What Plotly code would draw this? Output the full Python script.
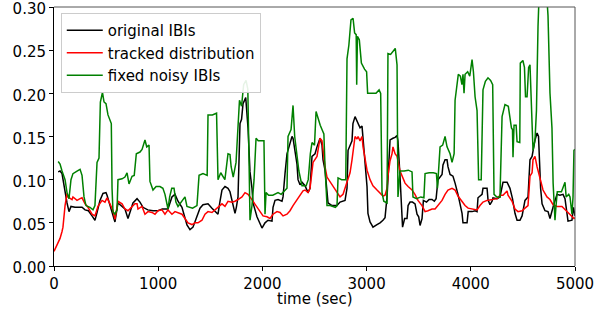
import plotly.graph_objects as go

# ---- data ----
t_orig = [40, 58, 77, 86, 106, 125, 144, 163, 202, 240, 269, 298, 330, 365, 393, 413, 441, 470, 499, 509, 537, 566, 585, 614, 653, 681, 710, 758, 797, 825, 854, 900, 950, 998, 1040, 1094, 1132, 1161, 1190, 1228, 1276, 1305, 1334, 1372, 1401, 1430, 1478, 1516, 1545, 1574, 1593, 1612, 1641, 1670, 1689, 1708, 1737, 1750, 1766, 1785, 1800, 1814, 1840, 1862, 1881, 1900, 1910, 1948, 1977, 1996, 2025, 2054, 2092, 2102, 2121, 2150, 2188, 2198, 2217, 2236, 2265, 2284, 2294, 2313, 2332, 2342, 2361, 2380, 2409, 2438, 2457, 2476, 2505, 2524, 2553, 2572, 2582, 2601, 2620, 2630, 2668, 2716, 2745, 2793, 2812, 2822, 2860, 2869, 2889, 2918, 2937, 2956, 2966, 2985, 3004, 3013, 3033, 3052, 3061, 3100, 3129, 3157, 3177, 3196, 3205, 3225, 3253, 3273, 3292, 3301, 3321, 3335, 3345, 3365, 3388, 3398, 3417, 3440, 3465, 3484, 3500, 3513, 3532, 3545, 3575, 3600, 3628, 3650, 3667, 3685, 3724, 3733, 3753, 3772, 3781, 3801, 3829, 3849, 3877, 3916, 3925, 3964, 3975, 4012, 4041, 4060, 4069, 4108, 4117, 4156, 4165, 4184, 4204, 4213, 4252, 4280, 4309, 4348, 4376, 4400, 4424, 4444, 4472, 4492, 4520, 4549, 4568, 4588, 4616, 4636, 4650, 4660, 4670, 4684, 4712, 4741, 4760, 4789, 4808, 4827, 4856, 4885, 4904, 4923, 4933, 4971, 4985, 5000]
y_orig = [0.109, 0.11, 0.107, 0.10, 0.083, 0.073, 0.063, 0.069, 0.068, 0.068, 0.068, 0.065, 0.064, 0.058, 0.053, 0.062, 0.076, 0.084, 0.085, 0.082, 0.07, 0.059, 0.051, 0.073, 0.069, 0.066, 0.055, 0.073, 0.078, 0.074, 0.068, 0.065, 0.064, 0.064, 0.066, 0.066, 0.08, 0.083, 0.075, 0.068, 0.0475, 0.042, 0.045, 0.057, 0.067, 0.071, 0.072, 0.067, 0.064, 0.06, 0.075, 0.088, 0.092, 0.09, 0.086, 0.075, 0.061, 0.068, 0.08, 0.165, 0.17, 0.188, 0.195, 0.16, 0.109, 0.09, 0.073, 0.057, 0.05, 0.044, 0.05, 0.053, 0.052, 0.068, 0.076, 0.077, 0.075, 0.08, 0.107, 0.13, 0.142, 0.15, 0.148, 0.135, 0.118, 0.10, 0.094, 0.097, 0.093, 0.085, 0.09, 0.127, 0.13, 0.138, 0.148, 0.14, 0.123, 0.111, 0.088, 0.073, 0.07, 0.07, 0.074, 0.076, 0.09, 0.134, 0.145, 0.165, 0.173, 0.165, 0.16, 0.162, 0.145, 0.119, 0.092, 0.061, 0.051, 0.047, 0.045, 0.048, 0.05, 0.053, 0.056, 0.08, 0.104, 0.146, 0.148, 0.149, 0.151, 0.145, 0.103, 0.07, 0.045, 0.055, 0.055, 0.07, 0.074, 0.074, 0.072, 0.06, 0.057, 0.047, 0.055, 0.076, 0.074, 0.077, 0.077, 0.075, 0.078, 0.1, 0.106, 0.117, 0.123, 0.123, 0.115, 0.106, 0.104, 0.096, 0.083, 0.061, 0.05, 0.05, 0.063, 0.063, 0.064, 0.063, 0.079, 0.083, 0.09, 0.09, 0.077, 0.071, 0.075, 0.079, 0.078, 0.08, 0.097, 0.097, 0.09, 0.078, 0.061, 0.053, 0.053, 0.058, 0.076, 0.08, 0.123, 0.127, 0.146, 0.154, 0.15, 0.12, 0.09, 0.072, 0.064, 0.063, 0.055, 0.068, 0.076, 0.083, 0.082, 0.083, 0.078, 0.06, 0.052, 0.053, 0.068, 0.058]

t_track = [0, 29, 58, 77, 86, 106, 125, 134, 154, 173, 182, 221, 250, 269, 298, 326, 365, 393, 422, 461, 489, 509, 537, 566, 585, 614, 653, 681, 710, 749, 777, 797, 806, 845, 873, 902, 940, 969, 998, 1036, 1065, 1094, 1132, 1161, 1190, 1228, 1257, 1286, 1324, 1353, 1382, 1420, 1449, 1478, 1516, 1545, 1574, 1612, 1641, 1670, 1708, 1737, 1766, 1804, 1833, 1862, 1881, 1910, 1948, 1977, 2006, 2044, 2073, 2102, 2140, 2169, 2198, 2236, 2265, 2294, 2332, 2361, 2390, 2409, 2438, 2457, 2476, 2486, 2524, 2553, 2572, 2582, 2601, 2620, 2668, 2697, 2726, 2745, 2774, 2793, 2822, 2841, 2860, 2889, 2908, 2918, 2937, 2956, 2966, 2985, 3004, 3033, 3061, 3100, 3129, 3157, 3177, 3196, 3205, 3225, 3244, 3253, 3273, 3292, 3321, 3340, 3369, 3398, 3436, 3464, 3493, 3532, 3561, 3589, 3628, 3657, 3685, 3724, 3753, 3781, 3820, 3849, 3877, 3916, 3945, 3974, 4012, 4060, 4088, 4117, 4156, 4204, 4252, 4280, 4309, 4348, 4357, 4396, 4424, 4453, 4492, 4520, 4549, 4568, 4588, 4597, 4616, 4636, 4664, 4693, 4731, 4760, 4789, 4827, 4875, 4923, 4952, 4990, 5000]
y_track = [0.017, 0.025, 0.032, 0.04, 0.045, 0.07, 0.084, 0.08, 0.078, 0.077, 0.08, 0.076, 0.078, 0.079, 0.072, 0.068, 0.06, 0.058, 0.069, 0.076, 0.074, 0.079, 0.072, 0.064, 0.054, 0.075, 0.072, 0.066, 0.064, 0.069, 0.072, 0.072, 0.066, 0.069, 0.06, 0.063, 0.062, 0.06, 0.064, 0.065, 0.06, 0.065, 0.06, 0.063, 0.062, 0.06, 0.055, 0.05, 0.048, 0.05, 0.05, 0.053, 0.06, 0.063, 0.062, 0.065, 0.068, 0.072, 0.069, 0.075, 0.074, 0.075, 0.077, 0.08, 0.085, 0.083, 0.08, 0.075, 0.068, 0.062, 0.058, 0.057, 0.055, 0.06, 0.063, 0.062, 0.058, 0.06, 0.064, 0.07, 0.077, 0.083, 0.087, 0.088, 0.085, 0.09, 0.115, 0.12, 0.127, 0.148, 0.145, 0.134, 0.115, 0.103, 0.094, 0.088, 0.082, 0.08, 0.083, 0.09, 0.1, 0.108, 0.123, 0.15, 0.147, 0.15, 0.145, 0.15, 0.138, 0.125, 0.111, 0.1, 0.093, 0.088, 0.085, 0.081, 0.082, 0.09, 0.104, 0.122, 0.13, 0.138, 0.13, 0.127, 0.11, 0.104, 0.096, 0.092, 0.088, 0.083, 0.076, 0.07, 0.063, 0.064, 0.066, 0.066, 0.07, 0.076, 0.083, 0.088, 0.09, 0.088, 0.081, 0.074, 0.07, 0.067, 0.066, 0.065, 0.07, 0.074, 0.076, 0.077, 0.078, 0.082, 0.082, 0.087, 0.082, 0.075, 0.066, 0.063, 0.064, 0.067, 0.07, 0.104, 0.108, 0.123, 0.127, 0.115, 0.1, 0.088, 0.08, 0.077, 0.071, 0.069, 0.069, 0.063, 0.059, 0.055, 0.056]

t_noisy = [40, 58, 77, 106, 125, 144, 163, 182, 221, 250, 269, 288, 307, 345, 374, 393, 413, 432, 445, 465, 480, 499, 518, 537, 550, 557, 566, 585, 605, 614, 653, 681, 701, 720, 749, 770, 790, 825, 845, 873, 890, 912, 921, 950, 980, 1017, 1045, 1065, 1094, 1110, 1130, 1152, 1170, 1190, 1228, 1257, 1276, 1330, 1372, 1392, 1430, 1470, 1478, 1520, 1560, 1574, 1600, 1640, 1670, 1689, 1700, 1720, 1747, 1766, 1780, 1800, 1820, 1843, 1860, 1872, 1881, 1900, 1920, 1939, 1960, 2000, 2015, 2025, 2035, 2060, 2100, 2150, 2180, 2236, 2246, 2275, 2294, 2310, 2332, 2350, 2380, 2420, 2440, 2460, 2476, 2500, 2515, 2535, 2555, 2572, 2590, 2601, 2620, 2650, 2700, 2716, 2726, 2760, 2800, 2812, 2830, 2850, 2870, 2885, 2900, 2905, 2912, 2930, 2950, 2980, 3000, 3010, 3050, 3090, 3120, 3135, 3148, 3165, 3196, 3205, 3230, 3260, 3275, 3292, 3301, 3321, 3360, 3400, 3436, 3445, 3480, 3520, 3550, 3561, 3600, 3640, 3670, 3680, 3705, 3730, 3753, 3772, 3801, 3820, 3840, 3849, 3868, 3880, 3900, 3915, 3925, 3935, 3945, 3970, 3990, 4012, 4025, 4041, 4060, 4075, 4100, 4117, 4140, 4165, 4190, 4210, 4223, 4250, 4270, 4280, 4300, 4328, 4360, 4390, 4400, 4405, 4415, 4435, 4444, 4470, 4475, 4500, 4515, 4525, 4540, 4555, 4568, 4585, 4597, 4616, 4630, 4645, 4660, 4720, 4741, 4760, 4779, 4790, 4808, 4818, 4830, 4870, 4885, 4904, 4915, 4940, 4952, 4971, 4981, 4990, 5000]
y_noisy = [0.121, 0.118, 0.11, 0.10, 0.085, 0.078, 0.10, 0.107, 0.11, 0.112, 0.105, 0.08, 0.07, 0.068, 0.065, 0.07, 0.12, 0.125, 0.19, 0.201, 0.19, 0.188, 0.175, 0.168, 0.165, 0.09, 0.063, 0.06, 0.065, 0.10, 0.101, 0.103, 0.108, 0.095, 0.104, 0.105, 0.13, 0.132, 0.135, 0.146, 0.138, 0.14, 0.098, 0.088, 0.092, 0.092, 0.09, 0.083, 0.066, 0.08, 0.09, 0.09, 0.074, 0.069, 0.075, 0.08, 0.069, 0.067, 0.07, 0.105, 0.107, 0.105, 0.175, 0.175, 0.177, 0.10, 0.108, 0.10, 0.13, 0.129, 0.115, 0.103, 0.12, 0.17, 0.192, 0.185, 0.21, 0.215, 0.205, 0.12, 0.053, 0.07, 0.10, 0.148, 0.145, 0.145, 0.145, 0.06, 0.085, 0.082, 0.082, 0.085, 0.083, 0.09, 0.15, 0.158, 0.186, 0.15, 0.125, 0.11, 0.093, 0.093, 0.10, 0.13, 0.143, 0.14, 0.179, 0.17, 0.163, 0.158, 0.153, 0.115, 0.07, 0.07, 0.068, 0.07, 0.102, 0.10, 0.10, 0.24, 0.256, 0.285, 0.287, 0.27, 0.268, 0.21, 0.266, 0.262, 0.235, 0.228, 0.225, 0.2, 0.2, 0.2, 0.204, 0.2, 0.085, 0.075, 0.073, 0.246, 0.245, 0.25, 0.252, 0.233, 0.08, 0.11, 0.11, 0.111, 0.109, 0.08, 0.078, 0.08, 0.079, 0.107, 0.108, 0.108, 0.107, 0.09, 0.138, 0.14, 0.15, 0.138, 0.13, 0.12, 0.13, 0.192, 0.215, 0.222, 0.22, 0.21, 0.222, 0.20, 0.222, 0.225, 0.22, 0.239, 0.225, 0.196, 0.18, 0.10, 0.10, 0.204, 0.214, 0.218, 0.215, 0.21, 0.083, 0.08, 0.08, 0.08, 0.173, 0.187, 0.185, 0.16, 0.158, 0.126, 0.163, 0.163, 0.144, 0.143, 0.235, 0.238, 0.23, 0.196, 0.196, 0.23, 0.233, 0.161, 0.134, 0.146, 0.18, 0.277, 0.33, 0.33, 0.29, 0.2, 0.16, 0.096, 0.053, 0.07, 0.086, 0.086, 0.09, 0.097, 0.08, 0.083, 0.08, 0.06, 0.08, 0.134, 0.135]

x_ticks = [0, 1000, 2000, 3000, 4000, 5000]
y_ticks = [0.00, 0.05, 0.10, 0.15, 0.20, 0.25, 0.30]
y_tick_labels = ["0.00", "0.05", "0.10", "0.15", "0.20", "0.25", "0.30"]
x_title = "time (sec)"

FONT = "DejaVu Sans"

fig = go.Figure()
fig.add_trace(go.Scatter(x=t_orig, y=y_orig, mode="lines", name="original IBIs",
                         line=dict(color="black", width=1.5)))
fig.add_trace(go.Scatter(x=t_track, y=y_track, mode="lines", name="tracked distribution",
                         line=dict(color="#ff0000", width=1.5)))
fig.add_trace(go.Scatter(x=t_noisy, y=y_noisy, mode="lines", name="fixed noisy IBIs",
                         line=dict(color="#008000", width=1.5)))

fig.update_layout(
    width=613, height=311,
    margin=dict(l=54, r=38, t=7, b=45, autoexpand=False),
    paper_bgcolor="white", plot_bgcolor="white",
    font=dict(family=FONT, size=15, color="black"),
    showlegend=True,
    legend=dict(x=0.013, y=0.977, xanchor="left", yanchor="top",
                bgcolor="rgba(255,255,255,0.9)", bordercolor="#cccccc", borderwidth=1,
                font=dict(family=FONT, size=15, color="black"),
                tracegroupgap=0, itemwidth=36),
    xaxis=dict(range=[0, 5000], tickvals=x_ticks, ticks="outside", ticklen=4,
               tickcolor="black", showgrid=False, zeroline=False, automargin=False,
               showline=True, linecolor="black", linewidth=1),
    yaxis=dict(range=[0, 0.30], tickvals=y_ticks, ticktext=y_tick_labels,
               ticks="outside", ticklen=4, tickcolor="black", showgrid=False,
               automargin=False, zeroline=False, showline=True,
               ticklabeloverflow="allow", ticklabelshift=2,
               linecolor="black", linewidth=1),
)
fig.add_annotation(text=x_title, xref="paper", yref="paper", x=0.5, y=0,
                   xanchor="center", yanchor="top", yshift=-22, showarrow=False,
                   font=dict(family=FONT, size=15, color="black"))
# top and right frame lines
fig.add_shape(type="line", xref="paper", yref="paper", x0=0, x1=1, y0=1, y1=1,
              line=dict(color="#555555", width=1))
fig.add_shape(type="line", xref="paper", yref="paper", x0=1, x1=1, y0=0, y1=1,
              line=dict(color="#555555", width=1))

fig.write_html("out.html", config={"displayModeBar": False},
               post_script="document.body.style.margin='0';document.body.style.overflow='hidden';")
